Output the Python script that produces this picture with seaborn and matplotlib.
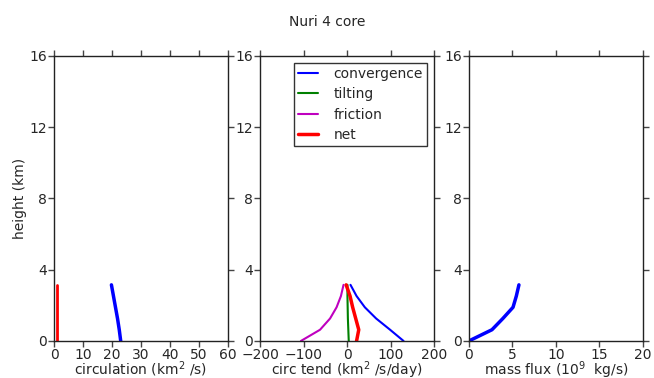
import matplotlib
matplotlib.use("Agg")
import matplotlib.pyplot as plt
import seaborn as sns
import numpy as np
import pandas as pd

sns.set_style("ticks")
plt.rcParams['font.family'] = ['DejaVu Sans']
plt.rcParams['xtick.direction'] = 'out'
plt.rcParams['ytick.direction'] = 'out'

# data
height = [0.0, 0.63, 1.26, 1.89, 2.52, 3.15]
circulation = [23.0, 22.5, 21.9, 21.2, 20.5, 19.8]
circ_net = [1.0, 1.0, 1.0, 1.0, 1.0, 1.0]
convergence = [130, 99, 67, 41, 22, 8]
tilting = [4, 3, 2, 1.5, 1, 1]
friction = [-106, -62, -39, -24, -14, -8]
net = [22, 27, 20, 13, 7, -2]
massflux = [0.0, 2.65, 3.9, 5.07, 5.45, 5.75]

title = "Nuri 4 core"
yticks = [0, 4, 8, 12, 16]

fig = plt.figure(figsize=(6.54, 3.78), dpi=100)
bottom, top = 0.098, 0.852
ax1 = fig.add_axes([0.0826, bottom, 0.266, top - bottom])
ax2 = fig.add_axes([0.3976, bottom, 0.266, top - bottom])
ax3 = fig.add_axes([0.717, bottom, 0.266, top - bottom])

kw = dict(sort=False, estimator=None)
sns.lineplot(x=circulation, y=height, color='blue', lw=2.5, ax=ax1, **kw)
sns.lineplot(x=circ_net, y=height, color='red', lw=2, ax=ax1, **kw)

sns.lineplot(x=convergence, y=height, color='blue', lw=1.5, ax=ax2, label='convergence', **kw)
sns.lineplot(x=tilting, y=height, color='green', lw=1.5, ax=ax2, label='tilting', **kw)
sns.lineplot(x=friction, y=height, color='m', lw=1.5, ax=ax2, label='friction', **kw)
sns.lineplot(x=net, y=height, color='red', lw=2.5, ax=ax2, label='net', **kw)

sns.lineplot(x=massflux, y=height, color='blue', lw=2.5, ax=ax3, **kw)

ax1.set_xlim(0, 60); ax1.set_xticks(range(0, 61, 10))
ax2.set_xlim(-200, 200); ax2.set_xticks([-200, -100, 0, 100, 200])
ax3.set_xlim(0, 20); ax3.set_xticks([0, 5, 10, 15, 20])

ax1.set_xlabel("circulation (km$^2$ /s)", fontsize=10, labelpad=-2)
ax2.set_xlabel("circ tend (km$^2$ /s/day)", fontsize=10, labelpad=-2)
ax3.set_xlabel("mass flux (10$^9$  kg/s)", fontsize=10, labelpad=-2)
ax1.set_ylabel("height (km)", fontsize=10, labelpad=2)

for ax in (ax1, ax2, ax3):
    ax.set_ylim(0, 16)
    ax.set_yticks(yticks)
    ax.tick_params(axis='both', which='both', top=True, right=True, labelsize=10,
                   length=4, width=1, pad=1, color='#444444')
    for s in ax.spines.values():
        s.set_linewidth(1)
        s.set_color('#222222')
    if ax is not ax1:
        ax.set_ylabel("")

leg = ax2.legend(loc='upper right', fontsize=10, frameon=True, fancybox=False,
                 edgecolor='black', handlelength=1.45, borderpad=0.3, labelspacing=0.45,
                 handletextpad=1.1, borderaxespad=0.5)
leg.get_frame().set_linewidth(1)

fig.suptitle(title, fontsize=10, y=0.96)
fig.savefig("out.png", dpi=100)
